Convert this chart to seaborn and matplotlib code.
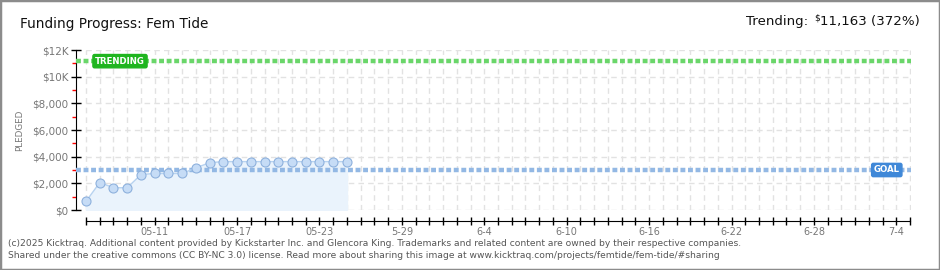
import numpy as np
import pandas as pd
import matplotlib
matplotlib.use("Agg")
import matplotlib.pyplot as plt
import matplotlib.dates as mdates
import matplotlib.transforms as mtransforms
from matplotlib.patches import Rectangle
from matplotlib.ticker import FixedLocator, NullFormatter
import seaborn as sns

# Data
dates = pd.date_range("2025-05-06", periods=20, freq="D")
pledged = [650, 2060, 1670, 1670, 2660, 2740, 2740, 2740, 3160, 3550,
           3630, 3630, 3630, 3630, 3630, 3630, 3630, 3630, 3630, 3630]
goal = 3000
trending = 11163
trend_pct = 372
axis_start = pd.Timestamp("2025-05-06")
axis_end = pd.Timestamp("2025-07-05")
label_dates = pd.to_datetime(["2025-05-11", "2025-05-17", "2025-05-23", "2025-05-29",
                              "2025-06-04", "2025-06-10", "2025-06-16", "2025-06-22",
                              "2025-06-28", "2025-07-04"])
label_text = ["05-11", "05-17", "05-23", "5-29", "6-4", "6-10", "6-16", "6-22", "6-28", "7-4"]
y_ticks = [0, 2000, 4000, 6000, 8000, 10000, 12000]
y_labels = ["$0", "$2,000", "$4,000", "$6,000", "$8,000", "$10K", "$12K"]
y_minor = [1000, 3000, 5000, 7000, 9000, 11000]

sns.set_style("white")
plt.rcParams['font.family'] = ['DejaVu Sans']
FONT = ["DejaVu Sans"]

fig = plt.figure(figsize=(9.4, 2.7), dpi=100)
ax = fig.add_axes([76 / 940, 60 / 270, 835 / 940, 160 / 270])

# area + line + markers
ax.fill_between(dates, pledged, 0, color="#eaf3fc", zorder=1)
sns.lineplot(x=dates, y=pledged, ax=ax, color="#b8d3f0", linewidth=1, marker="o",
             markersize=6.5, markerfacecolor="#c6dcf6", markeredgecolor="#8eb1dd",
             markeredgewidth=0.8, zorder=4, clip_on=False)

# goal and trending lines
ax.axhline(goal, color="#93b8e4", linewidth=3.2, linestyle=(0, (1.1, 0.6)), zorder=3)
ax.axhline(trending, color="#6ad66a", linewidth=3.2, linestyle=(0, (1.1, 0.6)), zorder=3)

trans = mtransforms.blended_transform_factory(ax.transAxes, ax.transData)
ax.text(0.0527, trending, "TRENDING", transform=trans, ha="center", va="center",
        color="white", fontsize=6.2, fontweight="bold", zorder=6,
        bbox=dict(boxstyle="round,pad=0.25,rounding_size=0.2", fc="#1fb51f", ec="#1fb51f"))
ax.text(0.971, goal, "GOAL", transform=trans, ha="center", va="center",
        color="white", fontsize=6.2, fontweight="bold", zorder=6,
        bbox=dict(boxstyle="round,pad=0.25,rounding_size=0.2", fc="#3f88d8", ec="#3f88d8"))

# axes limits
ax.set_xlim(axis_start - pd.Timedelta(days=0.73), axis_end + pd.Timedelta(days=0.07))
ax.set_ylim(0, 12000)

# x axis: a tick every day, labels every 6 days
ax.xaxis.set_major_locator(FixedLocator(mdates.date2num(label_dates)))
ax.set_xticklabels(label_text)
ax.xaxis.set_minor_locator(mdates.DayLocator())
ax.xaxis.set_minor_formatter(NullFormatter())
ax.tick_params(axis="x", which="both", bottom=True, direction="inout", length=6, width=1,
               color="black", labelsize=7, labelcolor="#777777", pad=1)
ax.set_xlabel("")

# y axis
ax.set_yticks(y_ticks)
ax.set_yticklabels(y_labels)
ax.yaxis.set_minor_locator(FixedLocator(y_minor))
ax.tick_params(axis="y", which="major", left=True, direction="inout", length=7, width=1,
               color="black", labelsize=7.5, labelcolor="#777777", pad=2)
ax.tick_params(axis="y", which="minor", left=True, direction="out", length=3, width=1,
               color="red")
ax.set_ylabel("PLEDGED", fontsize=6.3, color="#777777", labelpad=6)

# grid
ax.grid(True, which="major", axis="y", color="#e2e2e2", linestyle=(0, (4, 3)), linewidth=1)
ax.grid(True, which="both", axis="x", color="#e2e2e2", linestyle=(0, (4, 3)), linewidth=1)
ax.set_axisbelow(True)

for s in ["top", "right"]:
    ax.spines[s].set_visible(False)
ax.spines["left"].set_color("black")
ax.spines["left"].set_bounds(0, 12000)
ax.spines["bottom"].set_color("black")
ax.spines["bottom"].set_position(("outward", 8))
ax.spines["bottom"].set_bounds(mdates.date2num(axis_start), mdates.date2num(axis_end))

# titles
fig.text(20 / 940, 1 - 24 / 270, "Funding Progress: Fem Tide", fontsize=9.8,
         family=FONT, color="#111111", va="center")
t3 = fig.text(920 / 940, 1 - 22 / 270, f"11,163 ({trend_pct}%)", fontsize=9.6,
              family=FONT, color="#111111", ha="right", va="center")
ax.annotate("$", xy=(0, 0.8), xycoords=t3, ha="right", va="center", fontsize=6.5,
            family=FONT, color="#111111", annotation_clip=False)
ax.annotate("Trending:", xy=(0, 0.5), xycoords=t3, xytext=(-9, 0),
            textcoords="offset points", ha="right", va="center", fontsize=9.6,
            family=FONT, color="#111111", annotation_clip=False)

# footer
fig.text(8 / 940, 1 - 243 / 270,
         "(c)2025 Kicktraq. Additional content provided by Kickstarter Inc. and Glencora King. "
         "Trademarks and related content are owned by their respective companies.",
         fontsize=6.6, color="#555555", va="center", family=FONT)
fig.text(8 / 940, 1 - 256 / 270,
         "Shared under the creative commons (CC BY-NC 3.0) license. Read more about sharing "
         "this image at www.kicktraq.com/projects/femtide/fem-tide/#sharing",
         fontsize=6.6, color="#555555", va="center", family=FONT)

fig.patches.append(Rectangle((0, 0), 1, 1, transform=fig.transFigure, fill=False,
                             edgecolor="#8c8c8c", linewidth=2.5))

fig.savefig("out.png", dpi=100)
